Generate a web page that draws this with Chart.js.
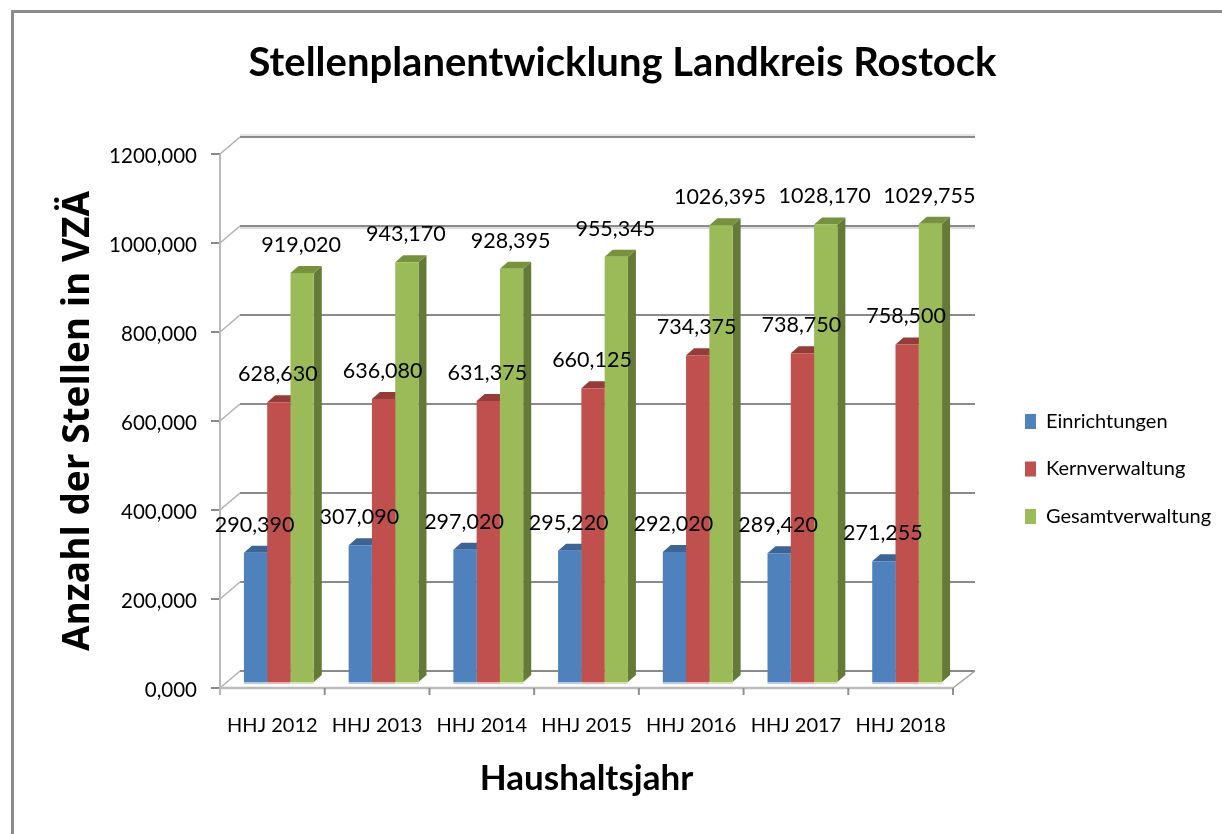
<!DOCTYPE html>
<html>
<head>
<meta charset="utf-8">
<script src="https://cdn.jsdelivr.net/npm/chart.js@4"></script>
<style>
  body { margin: 0; background: #fff; }
  canvas { display: block; }
</style>
</head>
<body>
<canvas id="myChart" width="1222" height="834"></canvas>
<script>
// values
const categories = ['HHJ 2012', 'HHJ 2013', 'HHJ 2014', 'HHJ 2015', 'HHJ 2016', 'HHJ 2017', 'HHJ 2018'];
const einrichtungen = [290.39, 307.09, 297.02, 295.22, 292.02, 289.42, 271.255];
const kernverwaltung = [628.63, 636.08, 631.375, 660.125, 734.375, 738.75, 758.5];
const gesamtverwaltung = [919.02, 943.17, 928.395, 955.345, 1026.395, 1028.17, 1029.755];

const fmt = v => v.toFixed(3).replace('.', ',');

// fake 3d: Excel style back wall and bar depth
const wallX = 20, wallY = -17;     // back wall offset from the front axes
const shiftX = 6.5, shiftY = -6;   // bars stand a bit inside the floor
const depthX = 8, depthY = -7;     // bar side / top
const shades = [
  { side: '#3a5f8b', top: '#3c6494', foot: '#b4cbe6' },
  { side: '#8c3836', top: '#943c39', foot: '#e8b3b1' },
  { side: '#667a38', top: '#76923c', foot: '#d5e3b4' }
];

function poly(ctx, pts, color) {
  ctx.fillStyle = color;
  ctx.beginPath();
  pts.forEach((p, i) => i ? ctx.lineTo(p[0], p[1]) : ctx.moveTo(p[0], p[1]));
  ctx.closePath();
  ctx.fill();
}

function line(ctx, x1, y1, x2, y2, color, w) {
  ctx.strokeStyle = color;
  ctx.lineWidth = w;
  ctx.beginPath();
  ctx.moveTo(x1, y1);
  ctx.lineTo(x2, y2);
  ctx.stroke();
}

const look3d = {
  id: 'look3d',
  beforeDraw(chart) {
    // outer frame, open on the right and at the bottom
    const { ctx, width, height } = chart;
    ctx.save();
    ctx.fillStyle = '#8c8c8c';
    ctx.fillRect(11, 10, width - 11, 3);
    ctx.fillRect(11, 10, 3, height - 10);
    ctx.restore();
  },
  beforeDatasetsDraw(chart) {
    const { ctx, chartArea: a, scales: { y } } = chart;
    ctx.save();

    // back wall grid
    y.ticks.forEach(t => {
      const py = y.getPixelForValue(t.value);
      if (t.value === 1200) line(ctx, a.left + wallX, py + wallY - 2, a.right + wallX + 2, py + wallY - 2, '#dddddd', 1.5);
      if (t.value === 1000) line(ctx, a.left + wallX, py + wallY + 2, a.right + wallX + 2, py + wallY + 2, '#dddddd', 2);
      line(ctx, a.left + wallX, py + wallY, a.right + wallX + 2, py + wallY, '#8a8a8a', 2);
      line(ctx, a.left, py, a.left + wallX, py + wallY, '#b0b0b0', 1.5);
      line(ctx, a.left - 9, py, a.left, py, '#8a8a8a', 2);
    });

    // front axes
    line(ctx, a.left, a.top, a.left, a.bottom + 7, '#b8b8b8', 2);
    line(ctx, a.left, a.bottom, a.right, a.bottom, '#bcbcbc', 2.5);
    line(ctx, a.right, a.bottom, a.right + wallX + 2, a.bottom + wallY, '#a0a0a0', 1.5);
    for (let i = 1; i <= categories.length; i++) {
      const px = a.left + (a.right - a.left) * i / categories.length;
      line(ctx, px, a.bottom, px, a.bottom + 7, '#8f8f8f', 2);
    }
    ctx.restore();

    // everything of the bars goes shifted, restored in afterDatasetsDraw
    ctx.save();
    ctx.translate(shiftX, shiftY);
    chart.data.datasets.forEach((ds, d) => {
      chart.getDatasetMeta(d).data.forEach(bar => {
        const l = bar.x - bar.width / 2, r = bar.x + bar.width / 2;
        poly(ctx, [[r, bar.y], [r + depthX, bar.y + depthY], [r + depthX, bar.base + depthY], [r, bar.base]], shades[d].side);
        poly(ctx, [[l, bar.y], [l + depthX, bar.y + depthY], [r + depthX, bar.y + depthY], [r, bar.y]], shades[d].top);
      });
    });
  },
  afterDatasetsDraw(chart) {
    const { ctx } = chart;
    chart.data.datasets.forEach((ds, d) => {
      chart.getDatasetMeta(d).data.forEach(bar => {
        ctx.fillStyle = shades[d].foot;
        ctx.fillRect(bar.x - bar.width / 2, bar.base, bar.width, 2);
      });
    });
    ctx.restore();

    // value labels, they lie over the neighbour bars
    ctx.save();
    ctx.font = '21.5px Lato';
    ctx.fillStyle = '#000';
    ctx.textAlign = 'center';
    ctx.textBaseline = 'middle';
    chart.data.datasets.forEach((ds, d) => {
      chart.getDatasetMeta(d).data.forEach((bar, i) => {
        ctx.fillText(fmt(ds.data[i]), bar.x + shiftX - 1, bar.y + shiftY - 28);
      });
    });
    ctx.restore();
  },
  afterLayout(chart) {
    // legend sits right of the plot, lower than the middle
    const lg = chart.legend;
    const w = lg.right - lg.left, h = lg.bottom - lg.top;
    lg.left = 1025 - lg.options.labels.padding;
    lg.right = lg.left + w;
    lg.top = 469 - h / 2;
    lg.bottom = lg.top + h;
    // title is centred over the whole picture, not only the plot side
    chart.titleBlock.right = chart.width;
  }
};

new Chart(document.getElementById('myChart'), {
  type: 'bar',
  plugins: [look3d],
  data: {
    labels: categories,
    datasets: [
      { label: 'Einrichtungen', data: einrichtungen, backgroundColor: '#4f81bd' },
      { label: 'Kernverwaltung', data: kernverwaltung, backgroundColor: '#c0504d' },
      { label: 'Gesamtverwaltung', data: gesamtverwaltung, backgroundColor: '#9bbb59' }
    ]
  },
  options: {
    responsive: false,
    animation: false,
    categoryPercentage: 0.667,
    barPercentage: 1,
    layout: { padding: { left: 23, right: 269, top: 0, bottom: 0 } },
    plugins: {
      title: {
        display: true,
        text: 'Stellenplanentwicklung Landkreis Rostock',
        color: '#000',
        font: { family: 'Lato', size: 40, weight: 'bold' },
        padding: { top: 39, bottom: 67 }
      },
      legend: {
        position: 'chartArea',
        labels: {
          boxWidth: 11,
          boxHeight: 15,
          padding: 27.5,
          color: '#000',
          font: { family: 'Lato', size: 20 }
        }
      },
      tooltip: { enabled: false }
    },
    scales: {
      x: {
        grid: { display: false },
        border: { display: false },
        ticks: { color: '#000', padding: 18, font: { family: 'Lato', size: 20 }, maxRotation: 0 },
        title: {
          display: true,
          text: 'Haushaltsjahr',
          color: '#000',
          font: { family: 'Lato', size: 35, weight: 'bold' },
          padding: { top: 0, bottom: 34 }
        },
        afterFit: s => { s.height = 146; }
      },
      y: {
        min: 0,
        max: 1200,
        grid: { display: false, drawTicks: false },
        border: { display: false },
        ticks: {
          stepSize: 200,
          color: '#000',
          padding: 23,
          labelOffset: 2,
          font: { family: 'Lato', size: 20.5 },
          callback: v => fmt(v)
        },
        title: {
          display: true,
          text: 'Anzahl der Stellen in VZÄ',
          color: '#000',
          font: { family: 'Open Sans', size: 37, weight: 'bold' },
          padding: { top: 33, bottom: 0 }
        },
        afterFit: s => { s.width = 197; }
      }
    }
  }
});
</script>
</body>
</html>
